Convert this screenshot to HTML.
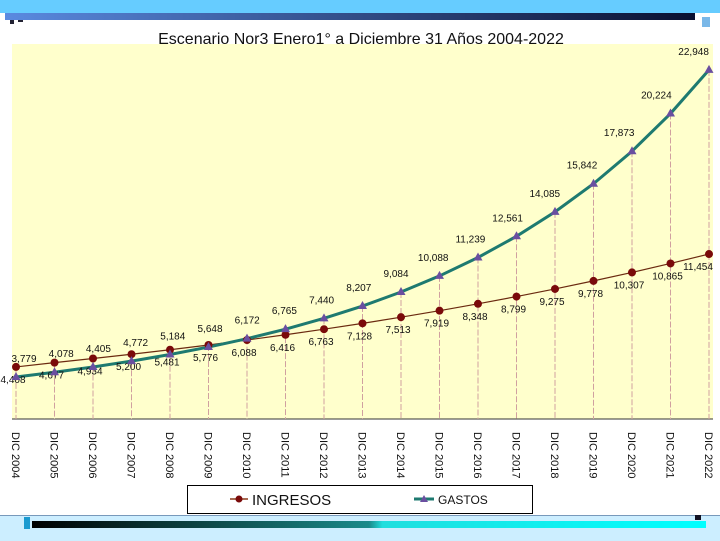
<!DOCTYPE html>
<html><head><meta charset="utf-8"><style>
body{margin:0;width:720px;height:540px;overflow:hidden;background:#fff;font-family:"Liberation Sans","DejaVu Sans",sans-serif;position:relative}
.abs{position:absolute}
</style></head><body>
<div class="abs" style="left:0;top:0;width:720px;height:13px;background:#66ccff"></div>
<div class="abs" style="left:5px;top:13px;width:690px;height:7px;background:linear-gradient(90deg,#5a8ae0,#0a1030)"></div>
<div class="abs" style="left:702px;top:17px;width:8px;height:10px;background:#7ab8e8"></div>
<div class="abs" style="left:10px;top:20px;width:4px;height:4px;background:#223"></div>
<div class="abs" style="left:18px;top:20px;width:5px;height:2px;background:#223"></div>
<div class="abs" style="left:0;top:515px;width:720px;height:25px;background:#cceeff;border-top:1px solid #7799bb"></div>
<div class="abs" style="left:24px;top:517px;width:6px;height:12px;background:#1a9ad0"></div>
<div class="abs" style="left:32px;top:521px;width:674px;height:7px;background:linear-gradient(90deg,#000,#1a8a8a 50%,#20dede 52%,#00ffff)"></div>
<div class="abs" style="left:695px;top:515px;width:6px;height:5px;background:#112"></div>
<svg class="abs" style="left:0;top:0" width="720" height="540">
<rect x="12" y="44" width="701" height="375" fill="#ffffcc"/>
<text x="361" y="44" text-anchor="middle" font-size="16" fill="#111">Escenario Nor3 Enero1° a Diciembre 31 Años 2004-2022</text>
<line x1="12" y1="419" x2="713" y2="419" stroke="#333" stroke-width="1"/>
<g id="g"></g>
</svg>
<div class="abs" style="left:187px;top:485px;width:344px;height:27px;border:1px solid #000;background:#fff">
<svg width="344" height="27" style="position:absolute;left:0;top:0">
<g><line x1="42" y1="13" x2="60" y2="13" stroke="#8b3a1a" stroke-width="1.5"/><circle cx="51" cy="13" r="3.5" fill="#7a0a0a"/>
<text x="64" y="19" font-size="15" fill="#111">INGRESOS</text></g>
<g><line x1="226" y1="13" x2="246" y2="13" stroke="#1e7a70" stroke-width="3"/><path d="M236,9 L240,16 L232,16Z" fill="#6a4fa0"/>
<text x="250" y="18" font-size="12" fill="#111">GASTOS</text></g>
</svg></div>
<script>
const years=["2004","2005","2006","2007","2008","2009","2010","2011","2012","2013","2014","2015","2016","2017","2018","2019","2020","2021","2022"];
const ingresos=[4408,4677,4934,5200,5481,5776,6088,6416,6763,7128,7513,7919,8348,8799,9275,9778,10307,10865,11454];
const gastos=[3779,4078,4405,4772,5184,5648,6172,6765,7440,8207,9084,10088,11239,12561,14085,15842,17873,20224,22948];
const NS="http://www.w3.org/2000/svg";
const g=document.getElementById('g');
const x0=16,step=38.5,yBase=419,vMin=1157,k=0.01602;
const X=i=>x0+i*step;
const Y=v=>yBase-(v-vMin)*k;
const fmt=v=>v.toLocaleString('en-US');
function mk(t,a){const e=document.createElementNS(NS,t);for(const n in a)e.setAttribute(n,a[n]);g.appendChild(e);return e;}
years.forEach((yr,i)=>{
  const top=Math.min(Y(ingresos[i]),Y(gastos[i]));
  const l=mk('line',{x1:X(i),y1:top,x2:X(i),y2:yBase,stroke:'#d0a0a0','stroke-width':1,'stroke-dasharray':'6,2'});
  
  
  const t=mk('text',{transform:`translate(${X(i)-4},432) rotate(90)`,'font-size':11,fill:'#111'});
  t.textContent='DIC  '+yr;
  
  
});
const pi=mk('polyline',{points:ingresos.map((v,i)=>X(i)+','+Y(v)).join(' '),fill:'none',stroke:'#6b2a10','stroke-width':1.2});


const pg=mk('polyline',{points:gastos.map((v,i)=>X(i)+','+Y(v)).join(' '),fill:'none',stroke:'#1e7a70','stroke-width':3});


ingresos.forEach((v,i)=>{
  const c=mk('circle',{cx:X(i),cy:Y(v),r:4,fill:'#7a0a0a'});
  
  
  const lx=Math.min(X(i)-3,698);
  const t=mk('text',{x:lx,y:Y(v)+16,'text-anchor':'middle','font-size':10,fill:'#111'});
  t.textContent=fmt(v);
  
  
});
gastos.forEach((v,i)=>{
  const x=X(i),y=Y(v);
  const p=mk('path',{d:`M${x},${y-5} L${x+4.5},${y+3} L${x-4.5},${y+3}Z`,fill:'#6a4fa0'});
  
  
  const t=mk('text',{x:x+8-i*1.3,y:y-15,'text-anchor':'middle','font-size':10,fill:'#111'});
  t.textContent=fmt(v);
  
  
});
</script>
</body></html>
